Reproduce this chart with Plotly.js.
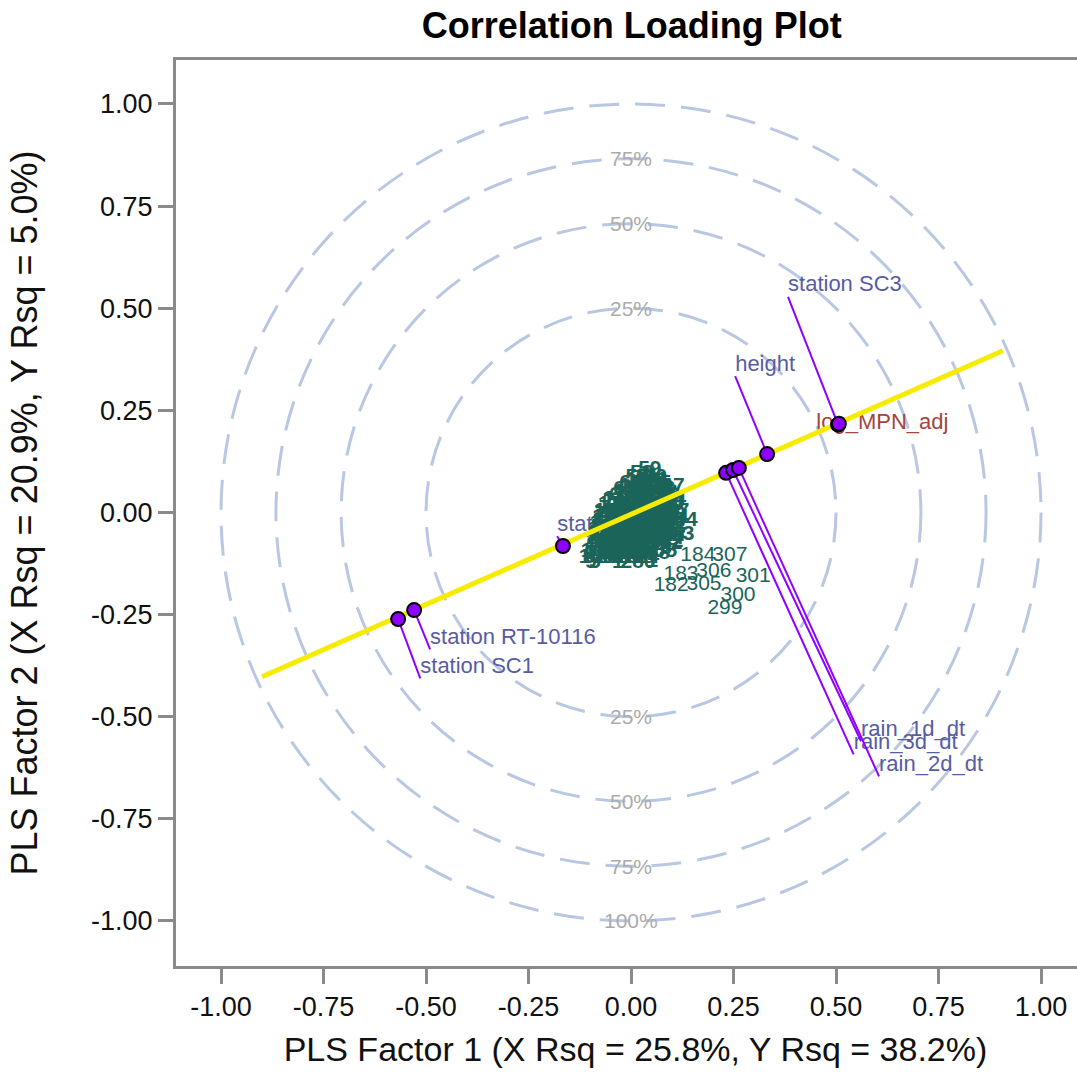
<!DOCTYPE html>
<html><head><meta charset="utf-8">
<script src="https://cdn.plot.ly/plotly-3.0.1.min.js"></script>
<style>html,body{margin:0;padding:0;overflow:hidden;background:#fff}#chart{width:1095px;height:1087px}</style>
</head><body><div id="chart"></div>
<script>
// ---- Data ----
const varNames = ['station SC3','height','rain_3d_dt','rain_1d_dt','rain_2d_dt','station RT-10116','station SC1','station SC2'];
const varX = [0.505, 0.332, 0.232, 0.249, 0.263, -0.529, -0.568, -0.166];
const varY = [0.215, 0.143, 0.097, 0.104, 0.109, -0.239, -0.261, -0.082];

const respNames = ['log_MPN_adj'];
const respX = [0.507];
const respY = [0.217];

const fitLineX = [-0.900, 0.907];
const fitLineY = [-0.402, 0.396];

const pctLabels = ['25%','50%','75%','100%'];
const pctRadius = [0.5, 0.707, 0.866, 1.0];

const tickVals = [-1, -0.75, -0.5, -0.25, 0, 0.25, 0.5, 0.75, 1];
const tickLabels = ['-1.00','-0.75','-0.50','-0.25','0.00','0.25','0.50','0.75','1.00'];

// observation (row) labels forming the dense cluster near the origin
const obsX = [0.046,
 0.026,
 0.015,0.040,0.060,
 0.000,0.025,0.050,0.070,
 -0.015,0.010,0.035,0.060,0.080,
 -0.025,0.000,0.025,0.050,0.075,0.090,
 -0.040,-0.015,0.010,0.035,0.060,0.085,0.100,
 -0.050,-0.025,0.000,0.025,0.050,0.075,0.100,
 -0.060,-0.035,-0.010,0.015,0.040,0.065,0.090,0.105,
 -0.065,-0.040,-0.015,0.010,0.035,0.060,0.085,0.120,
 -0.070,-0.045,-0.020,0.005,0.030,0.055,0.080,0.105,
 -0.075,-0.050,-0.025,0.000,0.025,0.050,0.075,0.112,
 -0.075,-0.050,-0.025,0.000,0.025,0.050,0.075,0.100,
 -0.080,-0.055,-0.030,-0.005,0.020,0.045,0.083,
 -0.080,-0.055,-0.030,-0.005,0.020,0.045,0.070,
 -0.085,-0.060,-0.035,-0.010,0.015,0.040,
 -0.098,-0.088,-0.032,0.017,0.052,
 0.088,
 0.028,0.050,
 0.012,0.037,0.060,
 -0.002,0.022,0.047,0.072,
 -0.028,-0.003,0.022,0.047,0.072,0.092,
 -0.038,-0.013,0.012,0.037,0.062,0.087,
 -0.048,-0.023,0.002,0.027,0.052,0.077,0.100,
 -0.052,-0.027,-0.002,0.023,0.048,0.073,0.098,
 -0.058,-0.033,-0.008,0.017,0.042,0.067,0.092,
 -0.062,-0.037,-0.012,0.013,0.038,0.063,0.090,
 -0.062,-0.037,-0.012,0.013,0.038,0.063,0.088,
 -0.068,-0.043,-0.018,0.007,0.032,0.057,0.085,
 -0.068,-0.043,-0.018,0.007,0.032,0.057,
 -0.072,-0.047,-0.022,0.003,0.028,0.053];
const obsY = [0.104,
 0.095,
 0.085,0.085,0.085,
 0.070,0.070,0.070,0.070,
 0.055,0.055,0.055,0.055,0.055,
 0.040,0.040,0.040,0.040,0.040,0.040,
 0.025,0.025,0.025,0.025,0.025,0.025,0.025,
 0.010,0.010,0.010,0.010,0.010,0.010,0.010,
 -0.005,-0.005,-0.005,-0.005,-0.005,-0.005,-0.005,-0.005,
 -0.020,-0.020,-0.020,-0.020,-0.020,-0.020,-0.020,-0.021,
 -0.035,-0.035,-0.035,-0.035,-0.035,-0.035,-0.035,-0.035,
 -0.050,-0.050,-0.050,-0.050,-0.050,-0.050,-0.050,-0.055,
 -0.065,-0.065,-0.065,-0.065,-0.065,-0.065,-0.065,-0.065,
 -0.080,-0.080,-0.080,-0.080,-0.080,-0.080,-0.077,
 -0.095,-0.095,-0.095,-0.095,-0.095,-0.095,-0.095,
 -0.110,-0.110,-0.110,-0.110,-0.110,-0.110,
 -0.124,-0.122,-0.124,-0.124,-0.120,
 0.062,
 0.078,0.078,
 0.062,0.062,0.062,
 0.048,0.048,0.048,0.048,
 0.032,0.032,0.032,0.032,0.032,0.032,
 0.018,0.018,0.018,0.018,0.018,0.018,
 0.002,0.002,0.002,0.002,0.002,0.002,0.002,
 -0.012,-0.012,-0.012,-0.012,-0.012,-0.012,-0.012,
 -0.028,-0.028,-0.028,-0.028,-0.028,-0.028,-0.028,
 -0.042,-0.042,-0.042,-0.042,-0.042,-0.042,-0.042,
 -0.058,-0.058,-0.058,-0.058,-0.058,-0.058,-0.058,
 -0.072,-0.072,-0.072,-0.072,-0.072,-0.072,-0.072,
 -0.088,-0.088,-0.088,-0.088,-0.088,-0.088,
 -0.102,-0.102,-0.102,-0.102,-0.102,-0.102];
const obsLab = ['59',
 '58',
 '57','61','60',
 '62','56','63','55',
 '64','54','65','53','66',
 '67','52','68','51','69','50',
 '70','49','71','48','72','47','73',
 '74','46','75','45','76','44','77',
 '78','43','79','42','80','41','81','40',
 '82','39','83','38','84','37','85','304',
 '86','35','87','34','88','33','89','32',
 '90','31','91','30','92','29','93','303',
 '94','27','95','26','96','25','97','24',
 '98','23','99','22','100','21','302',
 '102','19','103','18','104','17','105',
 '106','16','107','15','108','14',
 '9','5','1','280','1',
 '297',
 '110','111',
 '112','113','114',
 '115','116','117','118',
 '119','120','121','122','123','124',
 '125','126','127','128','129','130',
 '131','132','133','134','135','136','137',
 '138','139','140','141','142','143','144',
 '145','146','147','148','149','150','151',
 '152','153','154','155','156','157','158',
 '159','160','161','162','163','164','165',
 '166','167','168','169','170','171','172',
 '173','174','175','176','177','178',
 '179','181','185','186','187','188'];

// observation labels standing apart from the cluster
const outerX = [0.163,0.241,0.122,0.202,0.298,0.098,0.178,0.261,0.229];
const outerY = [-0.106,-0.106,-0.153,-0.146,-0.158,-0.180,-0.177,-0.204,-0.236];
const outerLab = ['184','307','183','306','301','182','305','300','299'];

// ---- Label placement (layout) ----
const varLabelX = [0.383, 0.254, 0.543, 0.561, 0.605, -0.490, -0.514, -0.180];
const varLabelY = [0.528, 0.334, -0.592, -0.560, -0.646, -0.335, -0.406, -0.058];
const respLabelX = [0.452];
const respLabelY = [0.217];

const FONT = 'Liberation Sans, Arial, sans-serif';
const PURPLE = '#8f00ff';
const TEAL = '#1b6459';

const leadX = [], leadY = [];
for (let i = 0; i < varX.length; i++) {
  leadX.push(varX[i], varLabelX[i], null);
  leadY.push(varY[i], varLabelY[i], null);
}

const traces = [
  {type:'scatter', mode:'text', x: varLabelX, y: varLabelY, text: varNames,
   textposition:'top right', textfont:{family:FONT, size:22, color:'#585ca3'},
   hoverinfo:'skip', showlegend:false, cliponaxis:false},
  {type:'scatter', mode:'text', x: respLabelX, y: respLabelY, text: respNames,
   textposition:'middle right', textfont:{family:FONT, size:22, color:'#a5443a'},
   hoverinfo:'skip', showlegend:false, cliponaxis:false},
  {type:'scatter', mode:'text', x: obsX, y: obsY, text: obsLab,
   textposition:'middle center', textfont:{family:FONT, size:21, color:TEAL, weight:'bold'},
   hoverinfo:'skip', showlegend:false},
  {type:'scatter', mode:'text', x: outerX, y: outerY, text: outerLab,
   textposition:'middle center', textfont:{family:FONT, size:21, color:TEAL},
   hoverinfo:'skip', showlegend:false},
  {type:'scatter', mode:'lines', x: fitLineX, y: fitLineY,
   line:{color:'#f7ec00', width:5}, hoverinfo:'skip', showlegend:false},
  {type:'scatter', mode:'lines', x: leadX, y: leadY,
   line:{color:PURPLE, width:2}, hoverinfo:'skip', showlegend:false},
  {type:'scatter', mode:'markers', x: varX.concat(respX), y: varY.concat(respY),
   marker:{color:PURPLE, size:14, line:{color:'#000', width:2}},
   hoverinfo:'skip', showlegend:false}
];

const shapes = pctRadius.map(r => ({
  type:'circle', xref:'x', yref:'y', x0:-r, y0:-r, x1:r, y1:r, layer:'below',
  line:{color:'#b9c7e3', width:3, dash:'30px,16px'}
}));

const annotations = [];
pctLabels.forEach((t, i) => {
  if (i < 3) annotations.push({x:0, y:pctRadius[i], text:t, showarrow:false,
    font:{family:FONT, size:21, color:'#ababab'}, xanchor:'center', yanchor:'middle'});
  annotations.push({x:0, y:-pctRadius[i], text:t, showarrow:false,
    font:{family:FONT, size:21, color:'#ababab'}, xanchor:'center', yanchor:'middle'});
});

const axisCommon = {
  tickvals: tickVals, ticktext: tickLabels, ticks:'outside', ticklen:15, tickwidth:3,
  tickcolor:'#8a8a8a', showline:true, linecolor:'#8a8a8a', linewidth:3, mirror:true,
  showgrid:false, zeroline:false, tickfont:{family:FONT, size:27, color:'#111'}
};

const layout = {
  width:1095, height:1087,
  margin:{l:176, r:0, t:60, b:121},
  paper_bgcolor:'#fff', plot_bgcolor:'#fff',
  title:{text:'Correlation Loading Plot', font:{family:FONT, size:36, color:'#000', weight:'bold'},
    x:0.577, xanchor:'center', y:0.977, yanchor:'middle'},
  xaxis: Object.assign({}, axisCommon, {range:[-1.1098, 1.1317],
    title:{text:'PLS Factor 1 (X Rsq = 25.8%, Y Rsq = 38.2%)', font:{family:FONT, size:34, color:'#111'}, standoff:16}}),
  yaxis: Object.assign({}, axisCommon, {range:[-1.1102, 1.1077],
    title:{text:'PLS Factor 2 (X Rsq = 20.9%, Y Rsq = 5.0%)', font:{family:FONT, size:36, color:'#111'}, standoff:43}}),
  shapes: shapes,
  annotations: annotations,
  showlegend:false
};

Plotly.newPlot('chart', traces, layout, {displayModeBar:false, staticPlot:true});
</script></body></html>
